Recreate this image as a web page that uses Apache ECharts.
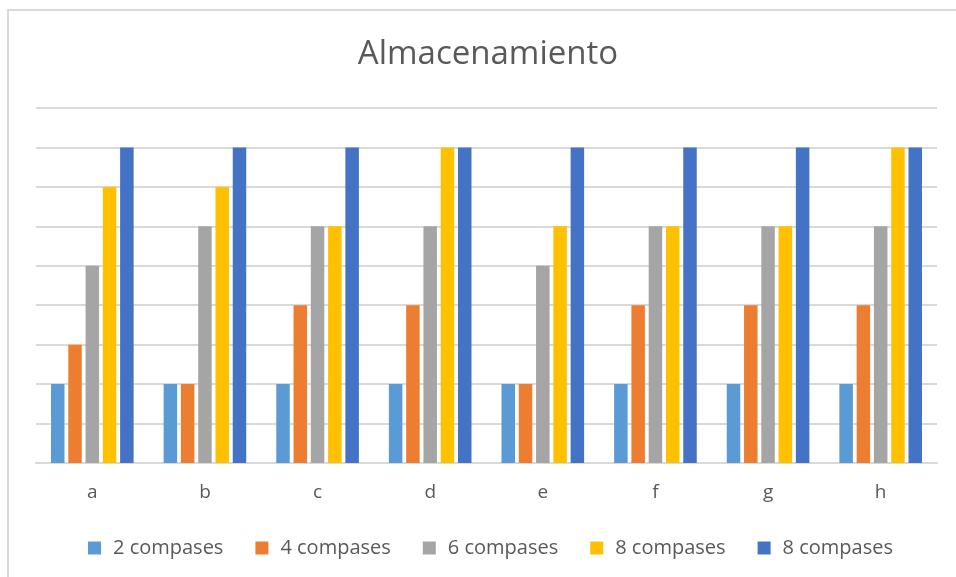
<!DOCTYPE html>
<html>
<head>
<meta charset="utf-8">
<script src="https://cdn.jsdelivr.net/npm/echarts@6/dist/echarts.min.js"></script>
<style>
  html, body { margin: 0; padding: 0; background: #fff; }
  #chart { width: 956px; height: 577px; }
</style>
</head>
<body>
<div id="chart"></div>
<script>
// categorías y valores
const categories = ['a', 'b', 'c', 'd', 'e', 'f', 'g', 'h'];
const seriesNames = ['2 compases', '4 compases', '6 compases', '8 compases', '8 compases '];
const comp2 = [2, 2, 2, 2, 2, 2, 2, 2];
const comp4 = [3, 2, 4, 4, 2, 4, 4, 4];
const comp6 = [5, 6, 6, 6, 5, 6, 6, 6];
const comp8 = [7, 7, 6, 8, 6, 6, 6, 8];
const comp8b = [8, 8, 8, 8, 8, 8, 8, 8];
const colors = ['#5b9bd5', '#ed7d31', '#a5a5a5', '#ffc000', '#4472c4'];

const chart = echarts.init(document.getElementById('chart'), null, { renderer: 'canvas' });

const allValues = [comp2, comp4, comp6, comp8, comp8b];

const option = {
  animation: false,
  backgroundColor: '#fff',
  color: colors,
  title: {
    text: 'Almacenamiento',
    left: 483,
    textAlign: 'center',
    top: 33,
    textStyle: {
      fontFamily: 'Open Sans',
      fontSize: 33,
      fontWeight: 'normal',
      color: '#595959',
    },
  },
  graphic: [
    {
      type: 'rect',
      shape: { x: 8, y: 10, width: 960, height: 580 },
      style: { fill: 'none', stroke: '#d9d9d9', lineWidth: 2 },
      silent: true,
    },
  ],
  legend: {
    bottom: 14,
    left: 83,
    icon: 'rect',
    itemWidth: 13,
    itemHeight: 13,
    itemGap: 32,
    data: seriesNames,
    textStyle: {
      fontFamily: 'Open Sans',
      fontSize: 20,
      color: '#595959',
      padding: [0, 0, 0, 7],
    },
  },
  grid: {
    left: 36,
    right: 19,
    top: 108,
    bottom: 114,
  },
  xAxis: {
    type: 'category',
    data: categories,
    axisLine: { lineStyle: { color: '#d9d9d9', width: 2 } },
    axisTick: { show: false },
    axisLabel: {
      margin: 20,
      fontFamily: 'Open Sans',
      fontSize: 19,
      color: '#595959',
    },
  },
  yAxis: {
    type: 'value',
    min: 0,
    max: 9,
    interval: 1,
    axisLine: { show: false },
    axisTick: { show: false },
    axisLabel: { show: false },
    splitLine: { lineStyle: { color: '#d9d9d9', width: 2 } },
  },
  series: seriesNames.map((name, i) => ({
    name: name,
    type: 'bar',
    barWidth: 13.5,
    barGap: '28%',
    data: allValues[i],
  })),
};

chart.setOption(option);
</script>
</body>
</html>
